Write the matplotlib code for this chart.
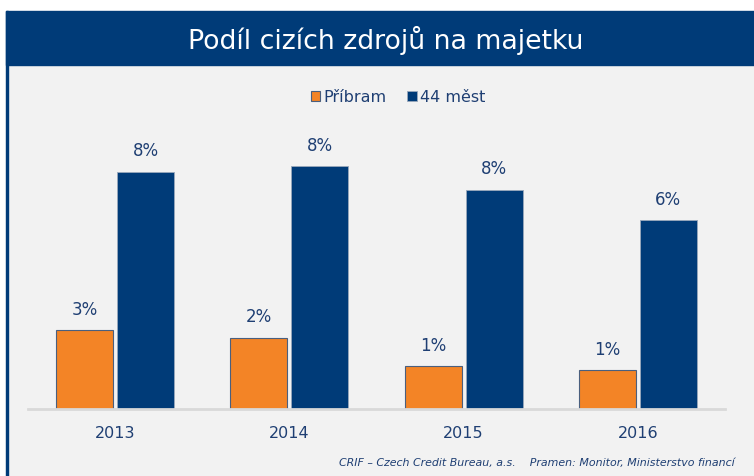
import numpy as np
import matplotlib.pyplot as plt
from matplotlib.patches import Rectangle

# Podíl cizích zdrojů na majetku (v %)
roky = ['2013', '2014', '2015', '2016']
pribram = [2.70, 2.44, 1.45, 1.31]
mest44 = [8.14, 8.34, 7.52, 6.48]
nazvy = ['Příbram', '44 měst']

oranzova = '#F38426'
modra = '#003B78'
text_modra = '#1F3F73'
pozadi = '#F2F2F2'

W, H = 754, 477
fig = plt.figure(figsize=(W / 100, H / 100), dpi=100)
fig.patch.set_facecolor('white')

# pozadí, levý okraj a titulkový pruh (pod osou grafu)
fig.patches.append(Rectangle((6 / W, 0), 1 - 6 / W, (H - 66) / H,
                             transform=fig.transFigure, color=pozadi, zorder=-10))
fig.patches.append(Rectangle((6 / W, 0), 2 / W, (H - 12) / H,
                             transform=fig.transFigure, color=modra, zorder=-9))
fig.patches.append(Rectangle((6 / W, (H - 66) / H), 1 - 6 / W, 54 / H,
                             transform=fig.transFigure, color=modra, zorder=-9))
fig.text(386 / W, (H - 40) / H, 'Podíl cizích zdrojů na majetku', color='white',
         fontsize=19.3, ha='center', va='center')

# osa grafu
ax = fig.add_axes([28 / W, (H - 409.5) / H, 697 / W, 329.5 / H])
ax.set_facecolor('none')
x = np.arange(len(roky))
sirka = 0.327
posun = 0.175
b1 = ax.bar(x - posun, pribram, sirka, color=oranzova, edgecolor='#4A5F7E',
            linewidth=0.8, label=nazvy[0])
b2 = ax.bar(x + posun, mest44, sirka, color=modra, edgecolor='#9AA8BC',
            linewidth=0.6, label=nazvy[1])

for bars, vals in [(b1, pribram), (b2, mest44)]:
    for b, v in zip(bars, vals):
        ax.annotate(f'{v:.0f}%', (b.get_x() + b.get_width() / 2, v),
                    xytext=(0, 9), textcoords='offset points',
                    ha='center', va='bottom', fontsize=12, color=text_modra)

ax.set_xlim(-0.5, 3.5)
ax.set_ylim(0, 329.5 / 29.07)
ax.set_xticks(x)
ax.set_xticklabels(roky, fontsize=11.5, color=text_modra)
ax.tick_params(axis='x', length=0, pad=12)
ax.set_yticks([])
for s in ['top', 'right', 'left']:
    ax.spines[s].set_visible(False)
ax.spines['bottom'].set_color('#D9D9D9')
ax.spines['bottom'].set_linewidth(2)

leg = fig.legend(loc='center', bbox_to_anchor=(398 / W, (H - 98) / H), ncol=2,
                 frameon=False, fontsize=11.5, handlelength=0.6, handleheight=0.6,
                 handletextpad=0.2, columnspacing=1.3)
for t in leg.get_texts():
    t.set_color(text_modra)

fig.text(735 / W, (H - 463) / H,
         'CRIF – Czech Credit Bureau, a.s.    Pramen: Monitor, Ministerstvo financí',
         fontsize=7.9, style='italic', color=text_modra, ha='right', va='center')

fig.savefig('out.png', dpi=100, facecolor=fig.get_facecolor())
